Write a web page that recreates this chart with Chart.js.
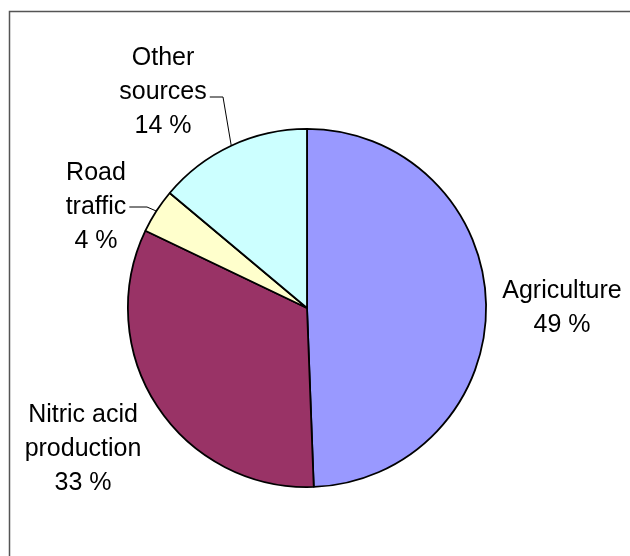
<!DOCTYPE html>
<html>
<head>
<meta charset="utf-8">
<script src="https://cdn.jsdelivr.net/npm/chart.js@4.4.0/dist/chart.umd.min.js"></script>
<style>
  html, body { margin: 0; padding: 0; background: #fff; }
  #wrap { width: 630px; height: 556px; position: relative; }
</style>
</head>
<body>
<div id="wrap"><canvas id="myChart" width="630" height="556"></canvas></div>
<script>
const categories = ["Agriculture", "Nitric acid production", "Road traffic", "Other sources"];
const shares = [49.4, 32.7, 4.0, 13.9];
const labelLines = [["Agriculture"], ["Nitric acid", "production"], ["Road", "traffic"], ["Other", "sources"]];
const sliceColors = ["#9999FF", "#993366", "#FFFFCC", "#CCFFFF"];

// plek van de labels (midden x, eerste basislijn) en knikpunt van de lijntjes
const labelSpots = [
  { x: 562, y: 298, leader: null },
  { x: 83, y: 422, leader: null },
  { x: 96, y: 180, leader: { line: 1, elbowX: 147, elbowY: 207 } },
  { x: 163, y: 64.5, leader: { line: 1, elbowX: 223, elbowY: 97 } }
];
const lineHeight = 34;
const labelFont = "25px 'Liberation Sans', Arial, sans-serif";

// kader linksboven
const framePlugin = {
  id: "frame",
  beforeDraw(chart) {
    const c = chart.ctx;
    c.save();
    c.strokeStyle = "#555";
    c.lineWidth = 1.5;
    c.beginPath();
    c.moveTo(630, 11.5);
    c.lineTo(9.5, 11.5);
    c.lineTo(9.5, 556);
    c.stroke();
    c.restore();
  }
};

// labels met percentages
const labelPlugin = {
  id: "pieLabels",
  afterDatasetsDraw(chart) {
    const c = chart.ctx;
    const arcs = chart.getDatasetMeta(0).data;
    c.save();
    c.font = labelFont;
    c.fillStyle = "#000";
    c.textAlign = "center";
    c.textBaseline = "alphabetic";
    arcs.forEach((arc, i) => {
      const spot = labelSpots[i];
      const lines = labelLines[i].concat([Math.round(shares[i]) + " %"]);
      lines.forEach((txt, j) => {
        c.fillText(txt, spot.x, spot.y + j * lineHeight);
      });
      if (spot.leader) {
        const p = arc.getProps(["x", "y", "startAngle", "endAngle", "outerRadius"], true);
        const mid = (p.startAngle + p.endAngle) / 2;
        const ex = p.x + Math.cos(mid) * p.outerRadius;
        const ey = p.y + Math.sin(mid) * p.outerRadius;
        const txt = lines[spot.leader.line];
        const tx = spot.x + c.measureText(txt).width / 2 + 3;
        c.strokeStyle = "#000";
        c.lineWidth = 1;
        c.beginPath();
        c.moveTo(tx, spot.leader.elbowY);
        c.lineTo(spot.leader.elbowX, spot.leader.elbowY);
        c.lineTo(ex, ey);
        c.stroke();
      }
    });
    c.restore();
  }
};

let ctx = document.getElementById("myChart").getContext("2d");
let myChart = new Chart(ctx, {
  type: "pie",
  data: {
    labels: categories,
    datasets: [{
      data: shares,
      backgroundColor: sliceColors,
      borderColor: "#000",
      borderWidth: 1.8
    }]
  },
  options: {
    responsive: false,
    animation: false,
    layout: { padding: { left: 126, right: 142, top: 128, bottom: 68 } },
    plugins: {
      legend: { display: false },
      tooltip: { enabled: false }
    }
  },
  plugins: [framePlugin, labelPlugin]
});
</script>
</body>
</html>
